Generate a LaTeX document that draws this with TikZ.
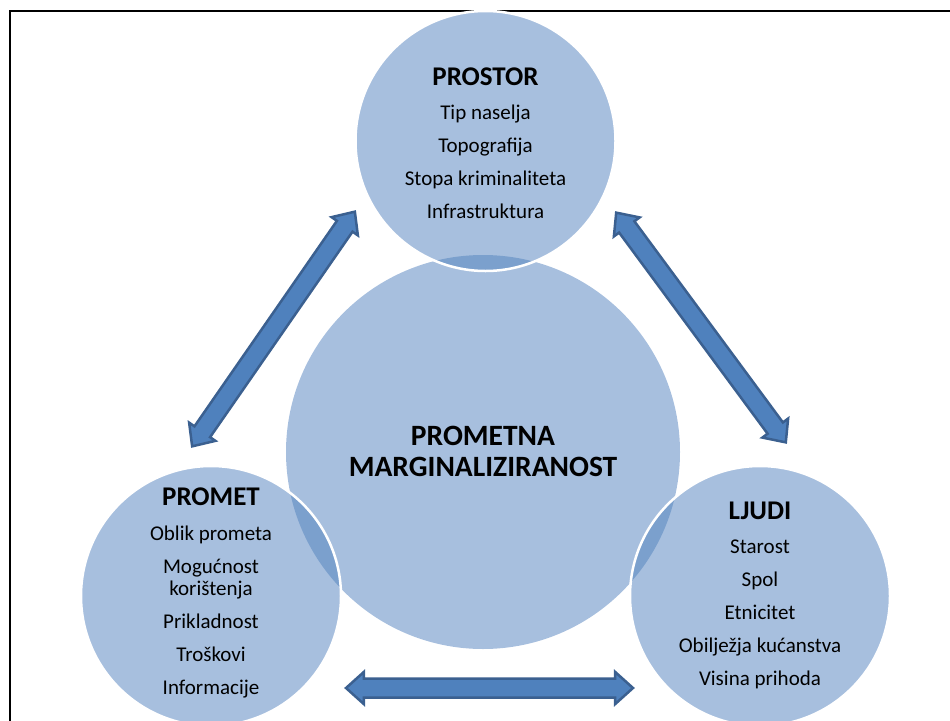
\documentclass[tikz,border=0pt]{standalone}
\usepackage{fontspec}
\setmainfont{Carlito}
\usetikzlibrary{shapes.arrows,calc}

\definecolor{circlefill}{HTML}{A7BFDE}
\definecolor{lensfill}{HTML}{7BA0CD}
\definecolor{arrowfill}{HTML}{4F81BD}
\definecolor{arrowline}{HTML}{3B6090}

\tikzset{
    disc/.style={circle, fill=circlefill, minimum size=260pt, inner sep=0pt},
    heading/.style={anchor=base, inner sep=0pt, font=\fontsize{27}{30}\selectfont\bfseries},
    item/.style={anchor=base, inner sep=0pt, font=\fontsize{21}{25}\selectfont},
    bigarrow/.style={double arrow, draw=arrowline, fill=arrowfill, line width=2.5pt,
        inner xsep=0pt, inner ysep=8.25pt, double arrow head extend=6.5pt,
        double arrow tip angle=84},
}

% block arrow with two heads between two named points
\newcommand{\linkarrow}[2]{%
    \path let \p1=($(#2)-(#1)$), \n1={atan2(\y1,\x1)}, \n2={veclen(\x1,\y1)-4} in
        node[bigarrow, minimum height=\n2, rotate=\n1] (#1-#2) at ($(#1)!0.5!(#2)$) {};
}

\begin{document}
\begin{tikzpicture}[x=1pt, y=-1pt]
        \useasboundingbox (0,0) rectangle (950,720);
        \draw[line width=1.5pt] (10,740) -- (10,11) -- (970,11);
        % circles
        \node[disc, minimum size=394pt] (centre) at (483,452) {};
        \node[disc] (prostor) at (485.5,141) {};
        \node[disc] (promet) at (211,596) {};
        \node[disc] (ljudi) at (760,596) {};
        % overlaps
        \begin{scope}
            \clip (centre.center) circle[radius=197];
            \foreach \c in {prostor, promet, ljudi}
                \fill[lensfill] (\c.center) circle[radius=130];
        \end{scope}
        \foreach \c in {prostor, promet, ljudi}
            \draw[white, line width=2.5pt] (\c.center) circle[radius=130];
        % texts
        \node[heading, font=\fontsize{29.5}{33}\selectfont\bfseries] (centre-1) at (483,445) {PROMETNA};
        \node[heading, font=\fontsize{29.5}{33}\selectfont\bfseries] (centre-2) at (483,476) {MARGINALIZIRANOST};
        \node[heading] (prostor-0) at (485.5,85.5) {PROSTOR};
        \foreach \txt [count=\i] in {Tip naselja, Topografija, Stopa kriminaliteta, Infrastruktura}
            \node[item] (prostor-\i) at (485.5,86+33*\i) {\txt};
        \node[heading] (promet-0) at (211,505.5) {PROMET};
        \foreach \txt/\y [count=\i] in {Oblik prometa/540, Mogućnost/573, korištenja/595, Prikladnost/628, Troškovi/661, Informacije/694}
            \node[item] (promet-\i) at (211,\y) {\txt};
        \node[heading] (ljudi-0) at (760,519.5) {LJUDI};
        \foreach \txt [count=\i] in {Starost, Spol, Etnicitet, Obilježja kućanstva, Visina prihoda}
            \node[item] (ljudi-\i) at (760,520+33*\i) {\txt};
        % arrows
        \coordinate (pp-a) at (356,210);
        \coordinate (pp-b) at (191,448);
        \coordinate (pl-a) at (615,211);
        \coordinate (pl-b) at (787,444);
        \coordinate (ml-a) at (344,688);
        \coordinate (ml-b) at (635,688);
        \linkarrow{pp-a}{pp-b}
        \linkarrow{pl-a}{pl-b}
        \linkarrow{ml-a}{ml-b}
\end{tikzpicture}
\end{document}
